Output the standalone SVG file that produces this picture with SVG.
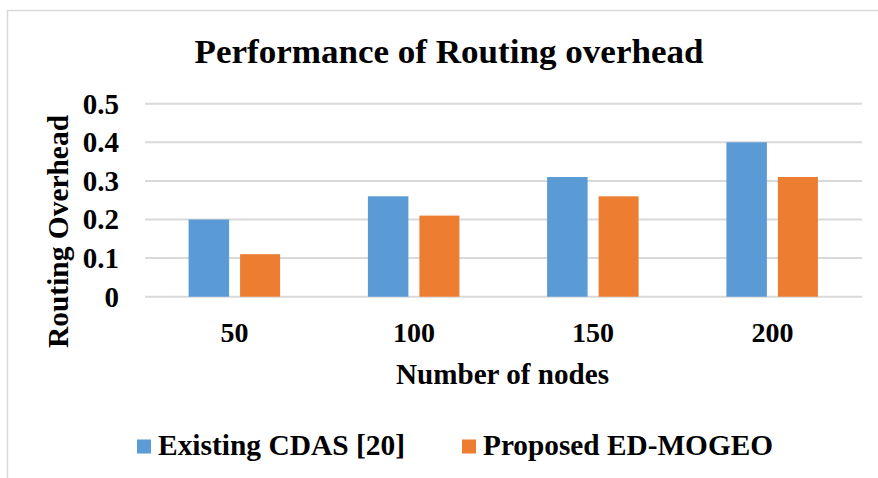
<svg xmlns="http://www.w3.org/2000/svg" width="878" height="478" viewBox="0 0 878 478">
<style>
.t{font-family:"Liberation Serif","Times New Roman",serif;font-weight:bold;fill:#000}
.grid{stroke:#D9D9D9;stroke-width:2}
.blue{fill:#5B9BD5}
.orange{fill:#ED7D31}
</style>
<rect x="0" y="0" width="878" height="478" fill="#fff"/>
<path d="M7.5 478 V10.5 H878" fill="none" stroke="#D9D9D9" stroke-width="1.5"/>
<text class="t" x="449" y="63.3" font-size="33" text-anchor="middle" textLength="509" lengthAdjust="spacingAndGlyphs">Performance of Routing overhead</text>
<g id="grid">
<line class="grid" x1="145" y1="296.7" x2="862" y2="296.7"/>
<line class="grid" x1="145" y1="258.1" x2="862" y2="258.1"/>
<line class="grid" x1="145" y1="219.5" x2="862" y2="219.5"/>
<line class="grid" x1="145" y1="180.9" x2="862" y2="180.9"/>
<line class="grid" x1="145" y1="142.3" x2="862" y2="142.3"/>
<line class="grid" x1="145" y1="103.7" x2="862" y2="103.7"/>
</g>
<g id="yticks" class="t" font-size="29" text-anchor="end">
<text x="119" y="306.5">0</text>
<text x="119" y="267.9">0.1</text>
<text x="119" y="229.3">0.2</text>
<text x="119" y="190.7">0.3</text>
<text x="119" y="152.1">0.4</text>
<text x="119" y="113.5">0.5</text>
</g>
<text class="t" font-size="29" text-anchor="middle" transform="translate(68 231.5) rotate(-90)" textLength="233" lengthAdjust="spacingAndGlyphs">Routing Overhead</text>
<g id="bars">
<rect class="blue" x="188.6" y="219.5" width="40.5" height="77.2"/>
<rect class="orange" x="240.1" y="254.2" width="40" height="42.5"/>
<rect class="blue" x="367.9" y="196.3" width="40.5" height="100.4"/>
<rect class="orange" x="419.4" y="215.6" width="40" height="81.1"/>
<rect class="blue" x="547.1" y="177" width="40.5" height="119.7"/>
<rect class="orange" x="598.6" y="196.3" width="40" height="100.4"/>
<rect class="blue" x="726.4" y="142.3" width="40.5" height="154.4"/>
<rect class="orange" x="777.9" y="177" width="40" height="119.7"/>
</g>
<g id="xticks" class="t" font-size="28" text-anchor="middle">
<text x="234.6" y="342">50</text>
<text x="413.9" y="342">100</text>
<text x="593.1" y="342">150</text>
<text x="772.4" y="342">200</text>
</g>
<text class="t" x="502.5" y="383.5" font-size="29" text-anchor="middle" textLength="213" lengthAdjust="spacingAndGlyphs">Number of nodes</text>
<g id="legend">
<rect class="blue" x="137" y="439.5" width="14" height="14"/>
<text class="t" x="158" y="455" font-size="29" textLength="247" lengthAdjust="spacingAndGlyphs">Existing CDAS [20]</text>
<rect class="orange" x="462" y="439.5" width="14" height="14"/>
<text class="t" x="483" y="455" font-size="29" textLength="290" lengthAdjust="spacingAndGlyphs">Proposed ED-MOGEO</text>
</g>
</svg>
